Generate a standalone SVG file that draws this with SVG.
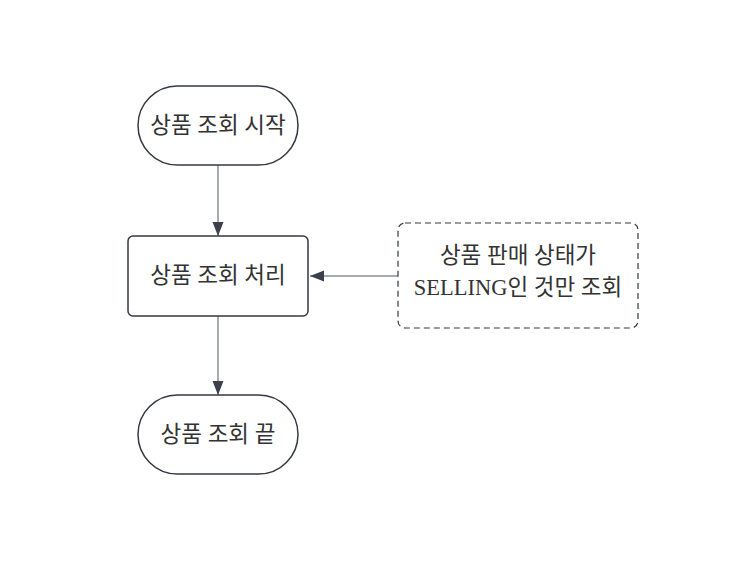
<svg xmlns="http://www.w3.org/2000/svg" width="730" height="582" viewBox="0 0 730 582">
<style>
.shape{fill:#ffffff;stroke:#333a44;stroke-width:1.5}
.note{fill:#ffffff;stroke:#333a44;stroke-width:1.2;stroke-dasharray:6 4}
.lbl{font-family:"Liberation Serif","Noto Sans CJK KR",serif;font-size:22.5px;fill:#333333;text-anchor:middle}
.edge{stroke:#8a8f98;stroke-width:1.5;fill:none}
</style>
<defs>
<marker id="arr" viewBox="0 0 14 12" refX="14" refY="6" markerWidth="14" markerHeight="12" markerUnits="userSpaceOnUse" orient="auto">
<path d="M0,0.5 L14,6 L0,11.5 Z" fill="#3a414a"/>
</marker>
</defs>
<rect width="730" height="582" fill="#ffffff"/>
<g id="connectors">
<path class="edge" d="M218,165 L218,236" marker-end="url(#arr)"/>
<path class="edge" d="M218,316 L218,395" marker-end="url(#arr)"/>
<path class="edge" d="M398,276 L310,276" marker-end="url(#arr)"/>
</g>
<g id="start">
<rect class="shape" x="138" y="86" width="160" height="79" rx="39.5"/>
<text class="lbl" x="218" y="133">상품 조회 시작</text>
</g>
<g id="process">
<rect class="shape" x="128" y="236" width="180" height="80" rx="5"/>
<text class="lbl" x="218" y="283">상품 조회 처리</text>
</g>
<g id="note">
<rect class="note" x="398" y="223" width="240" height="105" rx="7"/>
<text class="lbl" x="518" y="263">상품 판매 상태가</text>
<text class="lbl" x="518" y="295">SELLING인 것만 조회</text>
</g>
<g id="end">
<rect class="shape" x="138" y="395" width="160" height="79" rx="39.5"/>
<text class="lbl" x="218" y="442">상품 조회 끝</text>
</g>
</svg>
